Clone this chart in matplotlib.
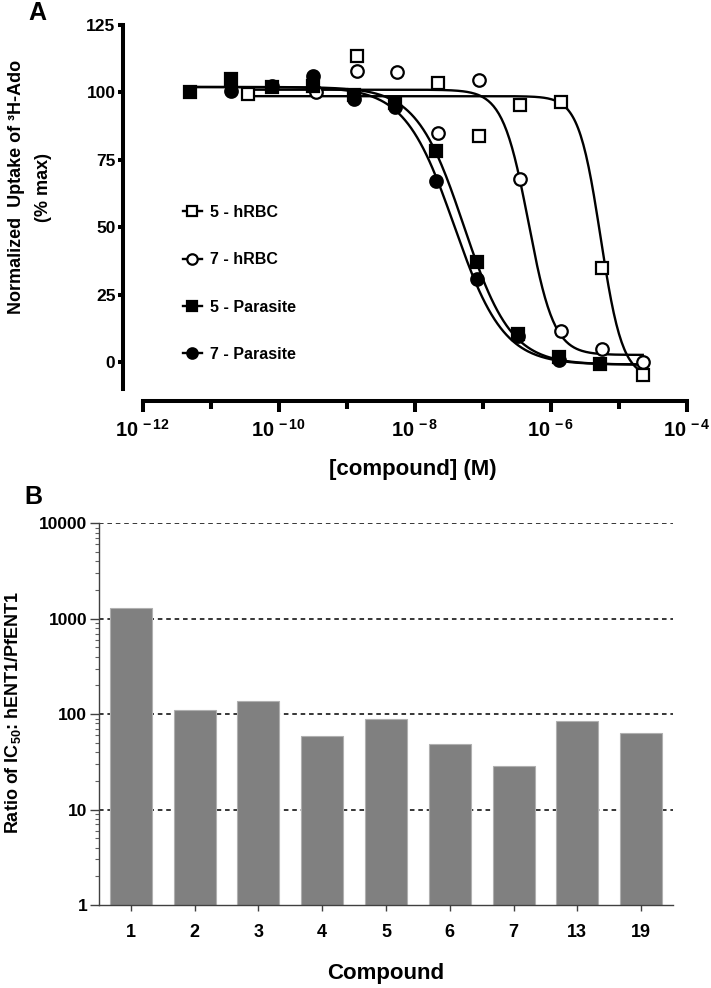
import numpy as np
import matplotlib
matplotlib.use('Agg')
import matplotlib.pyplot as plt
from matplotlib.ticker import FixedLocator, NullFormatter

plt.rcParams['font.family'] = ['Liberation Sans', 'DejaVu Sans']
plt.rcParams['font.weight'] = 'bold'
plt.rcParams['mathtext.fontset'] = 'custom'
plt.rcParams['mathtext.rm'] = 'Liberation Sans:bold'
plt.rcParams['mathtext.bf'] = 'Liberation Sans:bold'
plt.rcParams['mathtext.it'] = 'Liberation Sans:bold:italic'

# ---- panel A data (log10 of concentration in M, % uptake) ----
x_5_hrbc = [-10.45, -8.85, -7.66, -7.06, -6.46, -5.85, -5.25, -4.65]
y_5_hrbc = [99.3, 113.4, 103.3, 84.0, 95.5, 96.3, 35.0, -4.8]

x_7_hrbc = [-9.45, -8.85, -8.26, -7.66, -7.06, -6.46, -5.85, -5.25, -4.65]
y_7_hrbc = [100.0, 107.8, 107.4, 84.8, 104.5, 67.7, 11.5, 4.8, 0.0]

x_5_para = [-11.30, -10.70, -10.10, -9.49, -8.89, -8.29, -7.69, -7.09, -6.49, -5.88, -5.28]
y_5_para = [100.0, 104.8, 102.0, 102.5, 99.0, 96.0, 78.4, 37.2, 10.4, 2.0, -0.7]

x_7_para = [-10.70, -10.10, -9.49, -8.89, -8.29, -7.69, -7.09, -6.49, -5.88]
y_7_para = [100.5, 102.3, 106.0, 97.5, 94.5, 67.3, 30.9, 9.5, 0.7]

# fitted curves: top, bottom, logIC50, hill, x start, x end
fit_5_hrbc = [98.6, -6.0, -5.27, 2.7, -10.45, -4.65]
fit_7_hrbc = [101.0, 2.6, -6.33, 2.3, -10.45, -4.65]
fit_5_para = [102.0, -1.0, -7.28, 1.25, -11.30, -4.65]
fit_7_para = [102.0, -1.0, -7.42, 1.2, -11.30, -4.65]

# ---- panel B data ----
compounds = ['1', '2', '3', '4', '5', '6', '7', '13', '19']
ratios = [1280, 110, 136, 58, 88, 47.5, 27.3, 84.5, 62]


def logistic(logx, top, bottom, logic50, hill):
    return bottom + (top - bottom) / (1 + 10 ** ((logx - logic50) * hill))


fig = plt.figure(figsize=(7.11, 9.88), dpi=100)

# ================= A =================
ax1 = fig.add_axes([142.5 / 711, 1 - 401 / 988, (687 - 142.5) / 711, (401 - 25) / 988])

series = [
    ('5 - hRBC', x_5_hrbc, y_5_hrbc, fit_5_hrbc, 's', 'white'),
    ('7 - hRBC', x_7_hrbc, y_7_hrbc, fit_7_hrbc, 'o', 'white'),
    ('5 - Parasite', x_5_para, y_5_para, fit_5_para, 's', 'black'),
    ('7 - Parasite', x_7_para, y_7_para, fit_7_para, 'o', 'black'),
]

for name, xs, ys, fit, mk, fc in series:
    top, bottom, c, h, x0, x1 = fit
    lx = np.linspace(x0, x1, 300)
    ax1.plot(10 ** lx, logistic(lx, top, bottom, c, h), color='black', lw=1.7, zorder=2)
    ax1.plot(10 ** np.array(xs), ys, linestyle='none', marker=mk, markersize=8.5 if mk == 's' else 9,
             markerfacecolor=fc, markeredgecolor='black', markeredgewidth=1.6, zorder=3)
    # legend proxy
    ax1.plot([], [], color='black', lw=1.7, marker=mk, markersize=7.5,
             markerfacecolor=fc, markeredgecolor='black', markeredgewidth=1.6, label=name)

ax1.set_xscale('log')
ax1.set_xlim(1e-12, 1e-4)
ax1.set_ylim(-14.5, 125)

ax1.spines['top'].set_visible(False)
ax1.spines['right'].set_visible(False)
ax1.spines['left'].set_position(('outward', 14))
ax1.spines['left'].set_bounds(-10, 125)
for s in ['left', 'bottom']:
    ax1.spines[s].set_linewidth(2.9)
    ax1.spines[s].set_capstyle('projecting')

ax1.set_yticks([0, 25, 50, 75, 100, 125])
ax1.tick_params(axis='y', length=3.5, width=2.9, pad=2, labelsize=12.5)
for lab in ax1.get_yticklabels():
    lab.set_fontweight('bold')

major = [1e-12, 1e-10, 1e-8, 1e-6, 1e-4]
ax1.xaxis.set_major_locator(FixedLocator(major))
ax1.xaxis.set_minor_locator(FixedLocator([1e-11, 1e-9, 1e-7, 1e-5]))
ax1.xaxis.set_minor_formatter(NullFormatter())
ax1.set_xticklabels([r'$\mathbf{10^{\,-%d}}$' % e for e in [12, 10, 8, 6, 4]], fontsize=14.5)
ax1.tick_params(axis='x', which='major', length=8, width=2.9, pad=5)
ax1.tick_params(axis='x', which='minor', length=5.5, width=2.9)

ax1.legend(loc='upper left', bbox_to_anchor=(40 / 544.5, (401 - 205) / 376), frameon=False,
           handlelength=1.25, handletextpad=0.45, labelspacing=2.02,
           borderpad=0, borderaxespad=0, prop={'weight': 'bold', 'size': 11.5})

fig.text(30 / 711, 1 - 187 / 988, 'Normalized  Uptake of \u00b3H-Ado\n(% max)', rotation=90,
         ha='center', va='center', fontsize=13, fontweight='bold', linespacing=1.8)
fig.text(413 / 711, 1 - 470 / 988, '[compound] (M)', ha='center', va='center',
         fontsize=16, fontweight='bold')
fig.text(28 / 711, 1 - 13 / 988, 'A', ha='left', va='center', fontsize=18, fontweight='bold')

# ================= B =================
ax2 = fig.add_axes([99 / 711, 1 - 905 / 988, (673 - 99) / 711, (905 - 523.3) / 988])
pos = np.arange(len(compounds))
for v in [10, 100, 1000, 10000]:
    ax2.axhline(v, color='black', lw=1.1, ls=(0, (3, 2.5)), zorder=1)
ax2.bar(pos, ratios, width=0.66, bottom=1, color='#808080', edgecolor='#b0b0b0',
        linewidth=0.8, zorder=2)
ax2.set_yscale('log')
ax2.set_ylim(1, 10000)
ax2.set_xlim(-0.5, 8.5)
ax2.set_xticks(pos)
ax2.set_xticklabels(compounds, fontsize=13, fontweight='bold')
ax2.set_yticks([1, 10, 100, 1000, 10000])
ax2.set_yticklabels(['1', '10', '100', '1000', '10000'], fontsize=12.5, fontweight='bold')
ax2.spines['top'].set_visible(False)
ax2.spines['right'].set_visible(False)
for s in ['left', 'bottom']:
    ax2.spines[s].set_linewidth(1.0)
    ax2.spines[s].set_color('#404040')
ax2.tick_params(axis='y', which='major', length=6.5, width=1.0, color='#404040', pad=2)
ax2.tick_params(axis='y', which='minor', length=3, width=0.8, color='#606060')
ax2.tick_params(axis='x', length=4, width=1.0, color='#404040', pad=10)

fig.text(13 / 711, 1 - 712 / 988, 'Ratio of IC$_{50}$: hENT1/PfENT1', rotation=90,
         ha='center', va='center', fontsize=13, fontweight='bold')
fig.text(386 / 711, 1 - 973 / 988, 'Compound', ha='center', va='center',
         fontsize=16, fontweight='bold')
fig.text(24 / 711, 1 - 497 / 988, 'B', ha='left', va='center', fontsize=18, fontweight='bold')

fig.savefig('out.png', dpi=100)
